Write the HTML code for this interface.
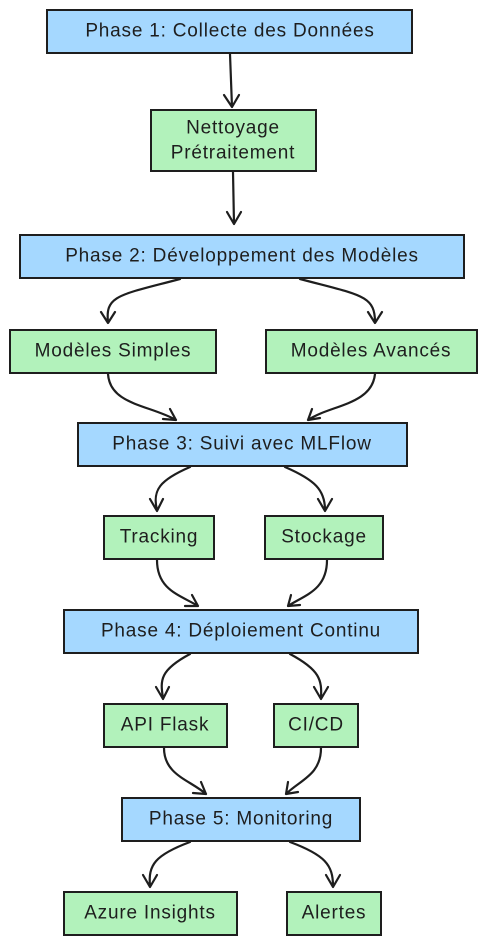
<!DOCTYPE html>
<html><head><meta charset="utf-8"><style>
html,body{margin:0;padding:0;background:#fff;}
svg{display:block}
text{font-family:"Liberation Sans",sans-serif;font-size:19px;letter-spacing:0.8px;fill:#1e1e1e;text-anchor:middle;dominant-baseline:central}
.b{fill:#a5d8ff;stroke:#1e1e1e;stroke-width:2}
.g{fill:#b2f2bb;stroke:#1e1e1e;stroke-width:2}
.a{fill:none;stroke:#1e1e1e;stroke-width:2.2;stroke-linecap:round;stroke-linejoin:round}
</style></head><body>
<svg width="487" height="947" viewBox="0 0 487 947" xmlns="http://www.w3.org/2000/svg">
<rect class="b" x="47" y="10" width="365" height="43"/><text x="230" y="31">Phase 1: Collecte des Données</text>
<rect class="g" x="151" y="110" width="165" height="61"/><text x="233" y="128">Nettoyage</text><text x="233" y="153">Prétraitement</text>
<rect class="b" x="20" y="235" width="444" height="43"/><text x="242" y="256">Phase 2: Développement des Modèles</text>
<rect class="g" x="10" y="330" width="206" height="43"/><text x="113" y="351">Modèles Simples</text>
<rect class="g" x="266" y="330" width="211" height="43"/><text x="371" y="351">Modèles Avancés</text>
<rect class="b" x="78" y="423" width="329" height="43"/><text x="242" y="444">Phase 3: Suivi avec MLFlow</text>
<rect class="g" x="104" y="516" width="110" height="43"/><text x="159" y="537">Tracking</text>
<rect class="g" x="265" y="516" width="118" height="43"/><text x="324" y="537">Stockage</text>
<rect class="b" x="64" y="610" width="354" height="43"/><text x="241" y="631">Phase 4: Déploiement Continu</text>
<rect class="g" x="104" y="704" width="123" height="43"/><text x="165" y="725">API Flask</text>
<rect class="g" x="274" y="704" width="84" height="43"/><text x="316" y="725">CI/CD</text>
<rect class="b" x="122" y="798" width="238" height="43"/><text x="241" y="819">Phase 5: Monitoring</text>
<rect class="g" x="64" y="892" width="173" height="43"/><text x="150" y="913">Azure Insights</text>
<rect class="g" x="287" y="892" width="94" height="43"/><text x="334" y="913">Alertes</text>

<path class="a" d="M230 54 L232 107 M224 95 L232 107 L239 95"/>
<path class="a" d="M233 172 L234 224 M227 212 L234 224 L241 212"/>
<path class="a" d="M180 279 C120 295 105 295 108 322 M101 312 L108 323 L115 312"/>
<path class="a" d="M300 279 C360 295 375 295 375 322 M368 312 L375 323 L382 312"/>
<path class="a" d="M108 374 C110 405 150 405 176 420 M163 419 L176 420 L170 409"/>
<path class="a" d="M375 374 C372 405 330 405 308 420 M312 409 L308 420 L320 418"/>
<path class="a" d="M190 467 C160 480 152 490 157 510 M150 499 L157 511 L163 499"/>
<path class="a" d="M285 467 C315 480 325 490 325 510 M318 499 L325 511 L332 499"/>
<path class="a" d="M157 560 C157 590 180 595 198 606 M185 606 L198 606 L192 595"/>
<path class="a" d="M327 560 C327 590 305 595 288 606 M291 595 L288 606 L300 605"/>
<path class="a" d="M190 654 C160 670 160 680 163 698 M156 687 L163 699 L169 687"/>
<path class="a" d="M290 654 C320 670 322 680 321 698 M314 687 L321 699 L328 687"/>
<path class="a" d="M164 748 C164 775 190 780 206 794 M193 793 L206 794 L201 782"/>
<path class="a" d="M321 748 C321 775 300 780 286 794 M288 782 L286 794 L298 792"/>
<path class="a" d="M190 842 C155 855 148 865 150 886 M143 875 L150 887 L157 875"/>
<path class="a" d="M290 842 C325 855 333 865 333 886 M326 875 L333 887 L340 875"/>
</svg>
</body></html>
